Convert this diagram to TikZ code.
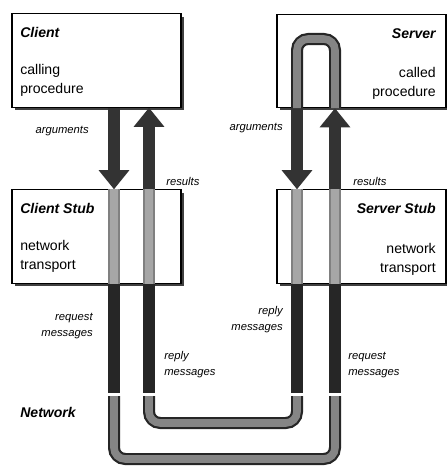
\documentclass[tikz,border=0pt]{standalone}
\usepackage{fontspec}
\setmainfont{Liberation Sans}
\usetikzlibrary{arrows.meta,shadows}

\tikzset{
  box/.style={draw, line width=0.8pt, fill=white,
    minimum width=4.225cm, minimum height=2.33cm,
    drop shadow={shadow xshift=2pt, shadow yshift=-2pt, fill=black!75, opacity=1}},
  title/.style={font=\bfseries\itshape, inner sep=0pt},
  body/.style={font=\fontsize{10}{13.5}\selectfont, inner sep=0pt},
  tag/.style={font=\fontsize{8}{11.5}\selectfont\itshape, inner sep=0pt},
  bigarrow/.style={line width=0.29cm, draw=black!80,
    -{Triangle[width=0.74cm,length=0.48cm]}},
  wire/.style={line width=0.3cm, draw=black!85},
  pipe/.style={draw=black!85, line width=0.055cm, double=black!48,
    double distance=0.19cm, rounded corners=0.28cm},
  stubpipe/.style={draw=black!50, line width=0.04cm, double=black!35,
    double distance=0.22cm},
}

\begin{document}
\begin{tikzpicture}[x=0.025cm,y=-0.025cm]
\useasboundingbox (0,0) rectangle (447,467);

% columns of the arrows and pipes
\coordinate (c1) at (114,0);
\coordinate (c2) at (149,0);
\coordinate (c3) at (297,0);
\coordinate (c4) at (335,0);
% levels in the network part
\coordinate (gap) at (0,393);
\coordinate (netA) at (0,396);
\coordinate (netB) at (0,423);
\coordinate (netC) at (0,459);
\coordinate (looptop) at (0,39);

% boxes
\node[box] (client) at (96.5,60.5) {};
\node[box] (server) at (361.5,61) {};
\node[box] (cstub) at (96.5,236.5) {};
\node[box] (sstub) at (361.5,236.5) {};

% procedure calls
\draw[bigarrow] (client.south -| c1) -- (cstub.north -| c1);
\draw[bigarrow] (cstub.north -| c2) -- (client.south -| c2);
\draw[bigarrow] (server.south -| c3) -- (sstub.north -| c3);
\draw[bigarrow] (sstub.north -| c4) -- (server.south -| c4);

% inside the server
\draw[pipe] (server.south -| c3) |- (c4 |- looptop) -- (server.south -| c4);

% inside the stubs
\draw[stubpipe] (cstub.north -| c1) -- (cstub.south -| c1);
\draw[stubpipe] (cstub.north -| c2) -- (cstub.south -| c2);
\draw[stubpipe] (sstub.north -| c3) -- (sstub.south -| c3);
\draw[stubpipe] (sstub.north -| c4) -- (sstub.south -| c4);

% messages
\draw[wire] (cstub.south -| c1) -- (c1 |- gap);
\draw[wire] (cstub.south -| c2) -- (c2 |- gap);
\draw[wire] (sstub.south -| c3) -- (c3 |- gap);
\draw[wire] (sstub.south -| c4) -- (c4 |- gap);

% network
\draw[pipe] (c1 |- netA) |- (c4 |- netC) -- (c4 |- netA);
\draw[pipe] (c2 |- netA) |- (c3 |- netB) -- (c3 |- netA);

% texts
\node[title, anchor=west] (clientT) at (20,32) {Client};
\node[body, anchor=west, align=left] (clientB) at (20,80) {calling\\procedure};
\node[title, anchor=east] (serverT) at (436,34) {Server};
\node[body, anchor=east, align=right] (serverB) at (436,83) {called\\procedure};
\node[title, anchor=west] (cstubT) at (20,208) {Client Stub};
\node[body, anchor=west, align=left] (cstubB) at (20,256) {network\\transport};
\node[title, anchor=east] (sstubT) at (436,208) {Server Stub};
\node[body, anchor=east, align=right] (sstubB) at (436,259) {network\\transport};

\node[tag, anchor=east] (argL) at (89,131) {arguments};
\node[tag, anchor=east] (argR) at (283,128) {arguments};
\node[tag, anchor=west] (resL) at (166,181) {results};
\node[tag, anchor=west] (resR) at (353,181) {results};
\node[tag, anchor=east, align=right] (reqL) at (93,326) {request\\messages};
\node[tag, anchor=east, align=right] (repM) at (283,320) {reply\\messages};
\node[tag, anchor=west, align=left] (repL) at (164,365) {reply\\messages};
\node[tag, anchor=west, align=left] (reqR) at (348,365) {request\\messages};
\node[title, anchor=west] (net) at (20,412) {Network};
\end{tikzpicture}
\end{document}
